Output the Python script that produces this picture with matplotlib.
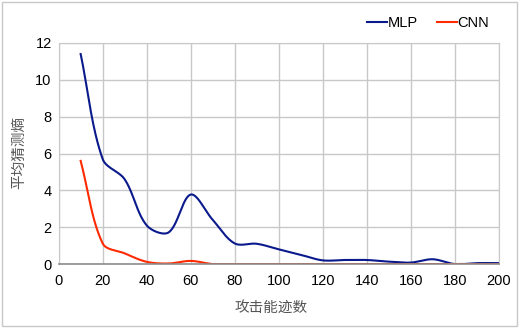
import numpy as np
import matplotlib.pyplot as plt
from matplotlib.patches import Rectangle

traces = [10, 20, 30, 40, 50, 60, 70, 80, 90, 100, 110, 120, 130, 140, 150, 160, 170, 180, 190, 200]
mlp = [11.4, 5.7, 4.6, 2.1, 1.72, 3.77, 2.4, 1.12, 1.1, 0.8, 0.5, 0.2, 0.22, 0.22, 0.13, 0.08, 0.26, 0.0, 0.05, 0.05]
cnn = [5.6, 1.12, 0.58, 0.12, 0.03, 0.17, 0.0, 0.0, 0.0, 0.0, 0.0, 0.0, 0.0, 0.0, 0.0, 0.0, 0.0, 0.0, 0.0, 0.0]


def smooth(x, y, kx=2.2, ky=18.5, n=30):
    # Excel-like smoothed line: Bezier segments, control arms scaled by
    # neighbouring segment lengths (measured in pixel space)
    p = np.column_stack([np.asarray(x, float) * kx, np.asarray(y, float) * ky])
    m = len(p)
    out = [p[0]]
    for i in range(m - 1):
        a, b = p[i], p[i + 1]
        d = np.linalg.norm(b - a)
        pa = p[i - 1] if i > 0 else a
        pb = p[i + 2] if i + 2 < m else b
        da = np.linalg.norm(a - pa)
        db = np.linalg.norm(pb - b)
        ta = (b - pa) * (d / (da + d)) / 3 if i > 0 else (b - a) / 3
        tb = (pb - a) * (d / (d + db)) / 3 if i + 2 < m else (b - a) / 3
        c1, c2 = a + ta, b - tb
        t = np.linspace(0, 1, n)[1:, None]
        seg = (1 - t) ** 3 * a + 3 * (1 - t) ** 2 * t * c1 + 3 * (1 - t) * t ** 2 * c2 + t ** 3 * b
        out.extend(seg)
    out = np.array(out)
    return out[:, 0] / kx, out[:, 1] / ky


fig = plt.figure(figsize=(5.19, 3.28), dpi=100)
fig.patches.append(Rectangle((0.004, 0.006), 0.992, 0.988, transform=fig.transFigure,
                             fill=False, edgecolor='#c8c8c8', linewidth=1))
ax = fig.add_axes([0.113, 0.195, 0.848, 0.674])

sx, sy = smooth(traces, mlp)
ax.plot(sx, np.clip(sy, 0, None), color='#0a1a8c', linewidth=1.5, label='MLP')
sx, sy = smooth(traces, cnn)
ax.plot(sx, np.clip(sy, 0, None), color='#ff2a00', linewidth=1.5, label='CNN')

ax.set_xlim(0, 200)
ax.set_ylim(0, 12)
ax.set_xticks(range(0, 201, 20))
ax.set_yticks(range(0, 13, 2))
ax.grid(color='#c8c8c8', linewidth=1)
ax.set_axisbelow(True)
for s in ['top', 'right', 'left']:
    ax.spines[s].set_color('#c8c8c8')
ax.spines['bottom'].set_color('#8c8c8c')
ax.spines['bottom'].set_linewidth(1.2)
ax.tick_params(length=0, labelsize=10.5)
ax.tick_params(axis='x', pad=7)
ax.tick_params(axis='y', pad=5)
for lab in ax.get_xticklabels() + ax.get_yticklabels():
    lab.set_family('Liberation Sans')

ax.set_xlabel('攻击能迹数', family='Noto Sans CJK SC', fontsize=10.5, color='#555555', va='center')
ax.set_ylabel('平均猜测熵', family='Noto Sans CJK SC', fontsize=10.5, color='#555555', va='center')
ax.xaxis.set_label_coords(0.483, -0.197)
ax.yaxis.set_label_coords(-0.09, 0.505)

ax.legend(loc='center right', bbox_to_anchor=(495 / 519, 1 - 23 / 328),
          bbox_transform=fig.transFigure, ncol=2, frameon=False,
          handlelength=1.35, handletextpad=0.05, columnspacing=1.3, borderaxespad=0,
          prop={'family': 'Liberation Sans', 'size': 10.5})

fig.savefig('out.png', dpi=100)
